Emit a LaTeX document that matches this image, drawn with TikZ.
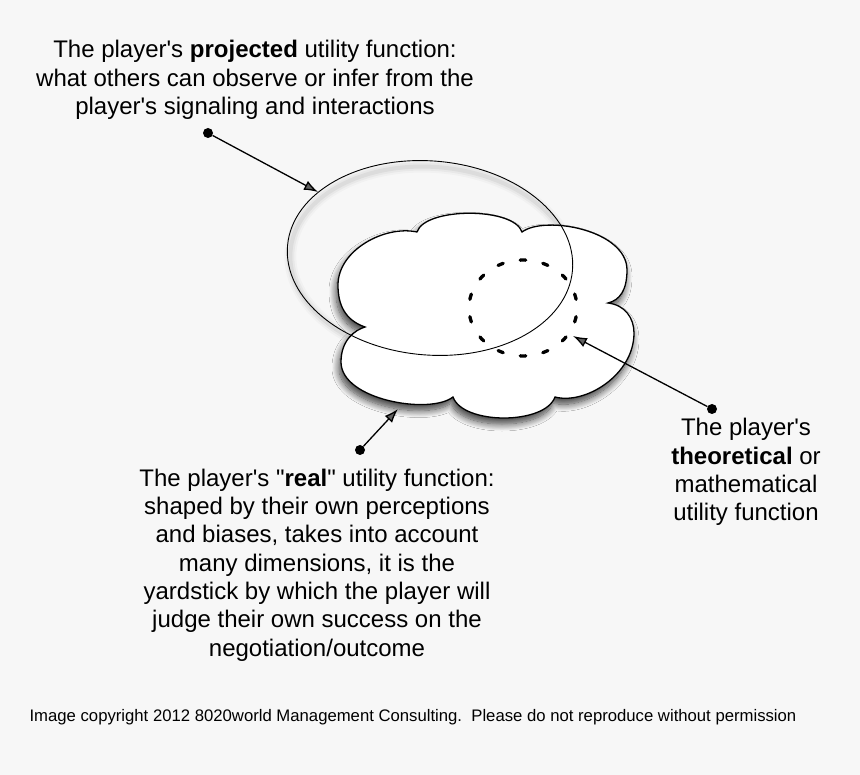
\documentclass[tikz,border=0pt]{standalone}
\usepackage{fontspec}
\newfontfamily\lbfont{Liberation Sans}
\usetikzlibrary{arrows.meta,shadows.blur}
\definecolor{bgc}{HTML}{F7F7F7}
\begin{document}
\begin{tikzpicture}[x=1pt,y=-1pt,
  lbl/.style={align=center, font=\lbfont\fontsize{24}{28.3}\selectfont, inner sep=0pt},
  pointer/.style={line width=1.3pt, -{Latex[length=14pt,width=10pt]}},
  dotmark/.style={circle, fill=black, inner sep=0pt, minimum size=10pt},
  cloudstyle/.style={draw=black, fill=white, line width=1.3pt,
     blur shadow={shadow xshift=-2pt, shadow yshift=-6pt, shadow blur radius=7pt, shadow blur steps=12, shadow opacity=75}},
  projstyle/.style={draw=black, line width=0.9pt},
  projshadow/.style={black, rotate around={-5:(432,263)}},
  theostyle/.style={draw=black, line width=3.3pt, line cap=round, dash pattern=on 5.5pt off 17.4pt, dash phase=14.2pt},
]
\path[use as bounding box, fill=bgc] (0,0) rectangle (860,775);

% soft shadow of the projected ellipse
\draw[projshadow, line width=12pt, opacity=0.025] (432,263) ellipse [x radius=142, y radius=96];
\draw[projshadow, line width=8pt, opacity=0.035] (432,263) ellipse [x radius=142, y radius=96];
\draw[projshadow, line width=4pt, opacity=0.05] (432,263) ellipse [x radius=142, y radius=96];

% real utility (cloud)
\path[cloudstyle] (417,232)
 .. controls (425,207) and (514,207) .. (522,232)
 .. controls (545,215) and (627,230) .. (627,270)
 .. controls (627,290) and (620,300) .. (608,303)
 .. controls (625,305) and (634,318) .. (634,333)
 .. controls (634,375) and (585,405) .. (555,397)
 .. controls (545,425) and (463,425) .. (453,397)
 .. controls (430,415) and (341,400) .. (341,362)
 .. controls (341,340) and (355,330) .. (365,327)
 .. controls (345,320) and (338,305) .. (338,285)
 .. controls (338,250) and (385,225) .. (417,232) -- cycle;

% projected utility (ellipse)
\draw[projstyle, rotate around={-5:(430,258)}] (430,258) ellipse [x radius=143, y radius=97];

% theoretical utility (dashed)
\draw[theostyle] (523,308) ellipse [x radius=54, y radius=48];

% labels
\node[lbl] (top) at (255,80) {The player's \textbf{projected} utility function:\\what others can observe or infer from the\\player's signaling and interactions};
\node[lbl] (real) at (317,565) {The player's "\textbf{real}" utility function:\\shaped by their own perceptions\\and biases, takes into account\\many dimensions, it is the\\yardstick by which the player will\\judge their own success on the\\negotiation/outcome};
\node[lbl] (theo) at (746,472) {The player's\\\textbf{theoretical} or\\mathematical\\utility function};
\node[font=\lbfont\fontsize{16.7}{20}\selectfont, inner sep=0pt] (copy) at (413,717) {Image copyright 2012 8020world Management Consulting.\ \ Please do not reproduce without permission};

% pointers
\node[dotmark] (d1) at (208,133) {};
\coordinate (t1) at (318,192);
\draw[pointer] (d1) -- (t1);
\node[dotmark] (d2) at (360,450) {};
\coordinate (t2) at (398,409);
\draw[pointer] (d2) -- (t2);
\node[dotmark] (d3) at (712,409) {};
\coordinate (t3) at (573,336);
\draw[pointer] (d3) -- (t3);
\end{tikzpicture}
\end{document}
